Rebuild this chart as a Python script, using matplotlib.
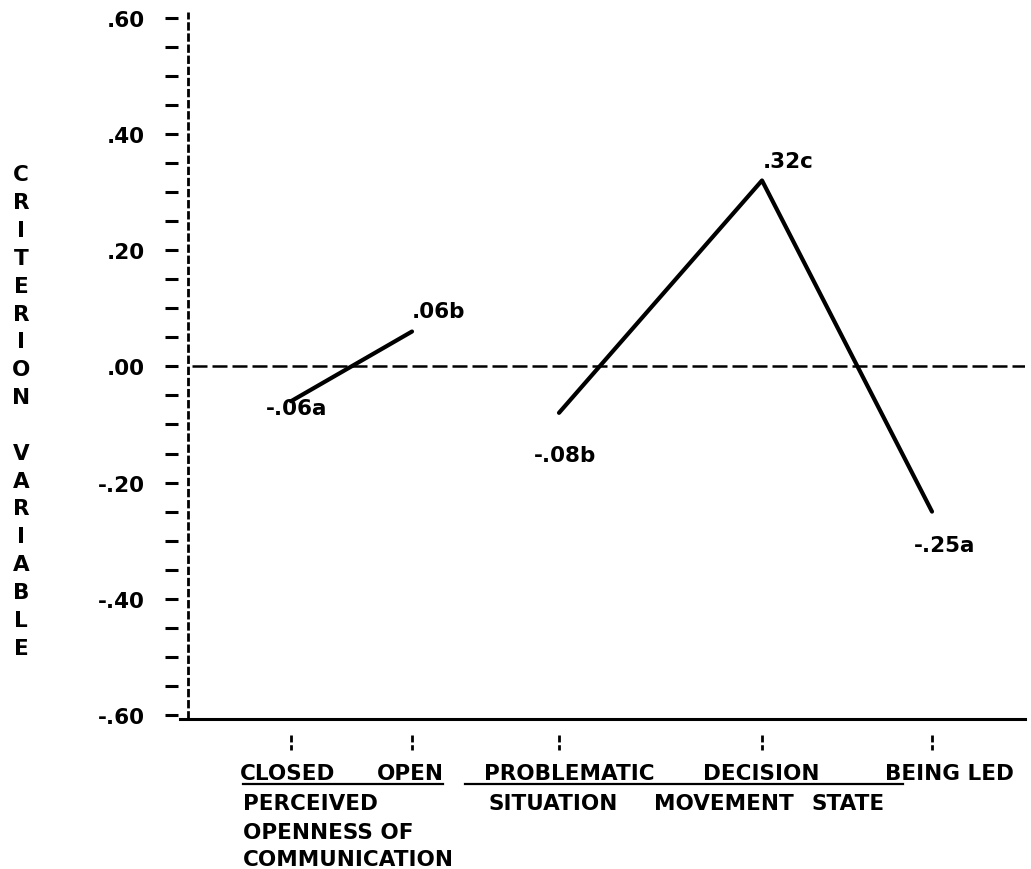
import numpy as np
import matplotlib
matplotlib.use("Agg")
import matplotlib.pyplot as plt
from matplotlib.lines import Line2D

# criterion means by perceived openness of communication
openness_levels = ["CLOSED", "OPEN"]
openness_means = [-0.06, 0.06]
openness_groups = ["a", "b"]

# criterion means by decision movement state
state_levels = ["PROBLEMATIC", "DECISION", "BEING LED"]
state_means = [-0.08, 0.32, -0.25]
state_groups = ["b", "c", "a"]

y_major = [0.60, 0.40, 0.20, 0.00, -0.20, -0.40, -0.60]
y_major_labels = [".60", ".40", ".20", ".00", "-.20", "-.40", "-.60"]

# layout (x in pixels from the vertical axis)
W, H = 1031, 870
openness_x = [103, 224]
state_x = [371, 574, 744]
level_label_x = [100, 222, 381, 573, 761]

FONT = dict(family="DejaVu Sans", weight="bold", size=15.5, color="black")

fig = plt.figure(figsize=(W / 100, H / 100), dpi=100)
ax = fig.add_axes([188 / W, 150 / H, 837 / W, 707 / H])
ax.set_xlim(0, 837)
ax.set_ylim(-0.607, 0.61)

for s in ["top", "right", "bottom"]:
    ax.spines[s].set_visible(False)
ax.spines["left"].set_position(("outward", 7))
ax.spines["left"].set_visible(False)

# baseline runs a little past the vertical axis, as in the print-out
ax.axhline(-0.607, xmin=-8 / 837, xmax=1, color="black", lw=2.2,
           clip_on=False)
# dotted vertical axis like a column of colons
ax.axvline(0, color="black", lw=2.0, linestyle=(0, (3, 1)), clip_on=False)

ax.set_yticks(y_major)
ax.set_yticklabels(y_major_labels, fontdict=FONT)
ax.set_yticks(np.arange(-0.60, 0.601, 0.05), minor=True)
ax.tick_params(axis="y", which="both", direction="out", length=9.4,
               width=2.2, pad=15)
ax.set_xticks([])

# zero reference line
ax.axhline(0, xmin=4 / 837, color="black", lw=1.8, linestyle=(0, (6, 2)))

# the two profiles
ax.plot(openness_x, openness_means, color="black", lw=3,
        solid_capstyle="round")
ax.plot(state_x, state_means, color="black", lw=3, solid_capstyle="round")

def fmt(v, g):
    return f"{v:.2f}".replace("0.", ".") + g

offsets = [(-25, -7), (0, 21), (-25, -42), (1, 19), (-18, -33)]
xs = openness_x + state_x
vals = openness_means + state_means
grps = openness_groups + state_groups
for x, v, g, (dx, dy) in zip(xs, vals, grps, offsets):
    ax.annotate(fmt(v, g), (x, v), xytext=(dx * 0.72, dy * 0.72),
                textcoords="offset points", ha="left", va="center", **FONT)

# colon tick marks under the axis
ax.vlines(xs, -0.634, -0.660, color="black", lw=2.0,
          linestyle=(0, (2.5, 1)), clip_on=False)

# level names under each mark
for x, name in zip(level_label_x, openness_levels + state_levels):
    ax.annotate(name, (x, 96), xycoords=("data", "figure pixels"),
                ha="center", va="center", **FONT)

for x0, x1 in [(243, 443), (465, 903)]:
    fig.add_artist(Line2D([x0 / W, x1 / W], [85 / H, 85 / H],
                          transform=fig.transFigure, color="black", lw=1.6))

fig.text(243 / W, 66 / H, "PERCEIVED", ha="left", va="center", **FONT)
fig.text(243 / W, 37 / H, "OPENNESS OF", ha="left", va="center", **FONT)
fig.text(243 / W, 10 / H, "COMMUNICATION", ha="left", va="center", **FONT)
for x, word in zip([553, 724, 848], ["SITUATION", "MOVEMENT", "STATE"]):
    fig.text(x / W, 66 / H, word, ha="center", va="center", **FONT)

fig.text(21 / W, 1 - 412 / H, "\n".join("CRITERION VARIABLE").replace(" ", ""),
         ha="center", va="center", linespacing=1.49, **FONT)

fig.savefig("out.png", dpi=100, facecolor="white")
